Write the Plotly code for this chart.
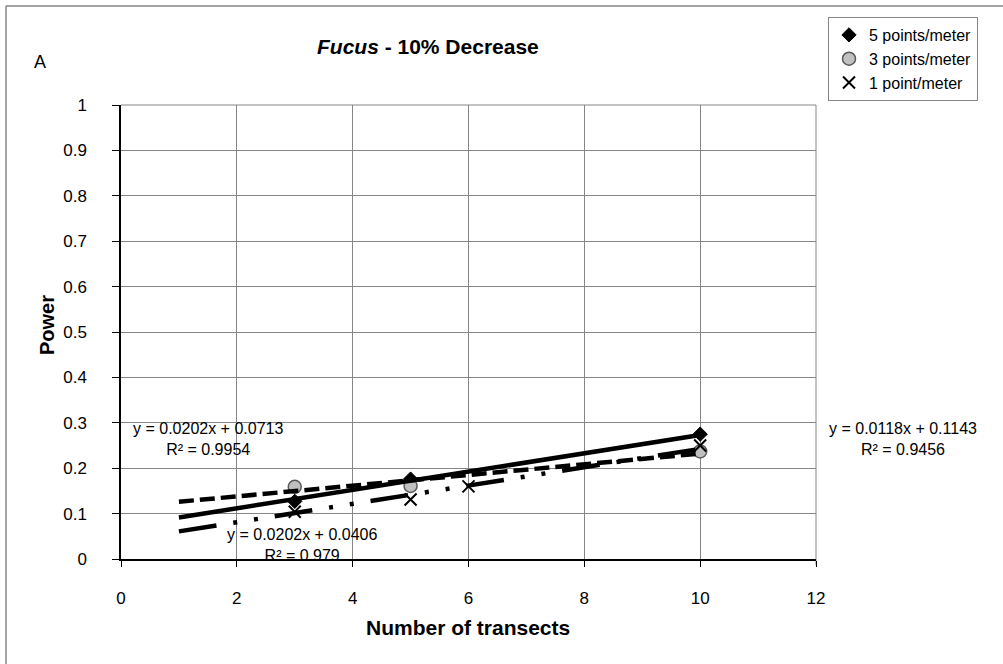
import plotly.graph_objects as go

# ---- data -------------------------------------------------------------
series_names = ["5 points/meter", "3 points/meter", "1 point/meter"]

x_5pts = [3, 5, 10]
y_5pts = [0.127, 0.176, 0.275]

x_3pts = [3, 5, 10]
y_3pts = [0.159, 0.161, 0.237]

x_1pt = [3, 5, 6, 10]
y_1pt = [0.104, 0.131, 0.160, 0.250]

# linear trendlines (slope, intercept, R²), drawn from x = 1 to 10
trend_5pts = (0.0202, 0.0713, 0.9954)
trend_3pts = (0.0118, 0.1143, 0.9456)
trend_1pt = (0.0202, 0.0406, 0.979)
trend_x = [1, 10]

x_ticks = [0, 2, 4, 6, 8, 10, 12]
y_ticks = [0, 0.1, 0.2, 0.3, 0.4, 0.5, 0.6, 0.7, 0.8, 0.9, 1]
y_tick_text = ["0", "0.1", "0.2", "0.3", "0.4", "0.5", "0.6", "0.7", "0.8", "0.9", "1"]

# ---- layout helpers ---------------------------------------------------
W, H = 1003, 664
L, R, T, B = 121, 816, 105, 559  # plot area in pixels


def px(x):
    return (x - L) / (R - L)


def py(y):
    return (B - y) / (B - T)


FONT = "Liberation Sans, Arial, sans-serif"


def eq_text(t):
    s, b, r2 = t
    return f"y = {s}x + {b}<br>R² = {r2}"


fig = go.Figure()

# data points
fig.add_trace(go.Scatter(
    x=x_5pts, y=y_5pts, mode="markers", name=series_names[0],
    marker=dict(symbol="diamond", size=11, color="black",
                line=dict(color="black", width=1))))
fig.add_trace(go.Scatter(
    x=x_3pts, y=y_3pts, mode="markers", name=series_names[1],
    marker=dict(symbol="circle", size=13, color="#c0c0c0",
                line=dict(color="#595959", width=1.5))))
fig.add_trace(go.Scatter(
    x=x_1pt, y=y_1pt, mode="markers", name=series_names[2],
    marker=dict(symbol="x-thin-open", size=12, color="black",
                line=dict(color="black", width=2))))

# trendlines
line_styles = [
    dict(color="black", width=4.5, dash="solid"),
    dict(color="black", width=4.5, dash="15px,6px"),
    dict(color="black", width=4.5, dash="38px,17px,4px,17px,4px,17px"),
]
for t, ls in zip([trend_5pts, trend_3pts, trend_1pt], line_styles):
    fig.add_trace(go.Scatter(
        x=trend_x, y=[t[0] * v + t[1] for v in trend_x],
        mode="lines", line=ls, showlegend=False, hoverinfo="skip"))

grid_col = "#868686"

fig.update_xaxes(
    range=[0, 12], tickvals=x_ticks, ticktext=[str(v) for v in x_ticks],
    showgrid=True, gridcolor=grid_col, gridwidth=1,
    showline=True, linecolor="black", linewidth=1.5,
    ticks="outside", ticklen=6, tickcolor="black",
    ticklabelstandoff=17, zeroline=False,
    tickfont=dict(family=FONT, size=17, color="black"))
fig.update_yaxes(
    range=[0, 1], tickvals=y_ticks, ticktext=y_tick_text,
    showgrid=True, gridcolor=grid_col, gridwidth=1,
    showline=True, linecolor="black", linewidth=1.5,
    ticks="outside", ticklen=7, tickcolor="black",
    ticklabelstandoff=22, zeroline=False,
    tickfont=dict(family=FONT, size=17, color="black"))

shapes = [
    # right and top edges of the plot area
    dict(type="line", xref="paper", yref="paper", x0=1, x1=1, y0=py(565), y1=1,
         line=dict(color=grid_col, width=1), layer="below"),
    dict(type="line", xref="paper", yref="paper", x0=0, x1=1, y0=1, y1=1,
         line=dict(color=grid_col, width=1), layer="below"),
    # outer chart frame (left and top edges)
    dict(type="line", xref="paper", yref="paper",
         x0=px(6), x1=px(6), y0=py(670), y1=py(6),
         line=dict(color="#868686", width=1.5), layer="below"),
    dict(type="line", xref="paper", yref="paper",
         x0=px(6), x1=px(1010), y0=py(6), y1=py(6),
         line=dict(color="#868686", width=1.5), layer="below"),
]

annotations = [
    dict(text="<b><i>Fucus</i> - 10% Decrease</b>", x=px(428), y=py(47),
         font=dict(size=21)),
    dict(text="A", x=px(40), y=py(62), font=dict(size=18)),
    dict(text="<b>Number of transects</b>", x=px(468), y=py(627),
         font=dict(size=21)),
    dict(text="<b>Power</b>", x=px(47), y=py(325), textangle=-90,
         font=dict(size=20)),
    dict(text=eq_text(trend_5pts), x=px(208), y=py(439), font=dict(size=16)),
    dict(text=eq_text(trend_1pt), x=px(302), y=py(545), font=dict(size=16)),
    dict(text=eq_text(trend_3pts), x=px(903), y=py(439), font=dict(size=16)),
]
for a in annotations:
    a.update(xref="paper", yref="paper", showarrow=False,
             xanchor="center", yanchor="middle", align="center")
    a["font"].update(family=FONT, color="black")

fig.update_layout(
    width=W, height=H,
    margin=dict(l=L, r=W - R, t=T, b=H - B, pad=0),
    paper_bgcolor="white", plot_bgcolor="white",
    shapes=shapes, annotations=annotations,
    showlegend=True,
    legend=dict(x=px(828), y=py(17), xanchor="left", yanchor="top",
                bordercolor="#868686", borderwidth=1, bgcolor="white",
                font=dict(family=FONT, size=16, color="black"),
                itemwidth=30, tracegroupgap=0),
)

fig.write_html("out.html")
